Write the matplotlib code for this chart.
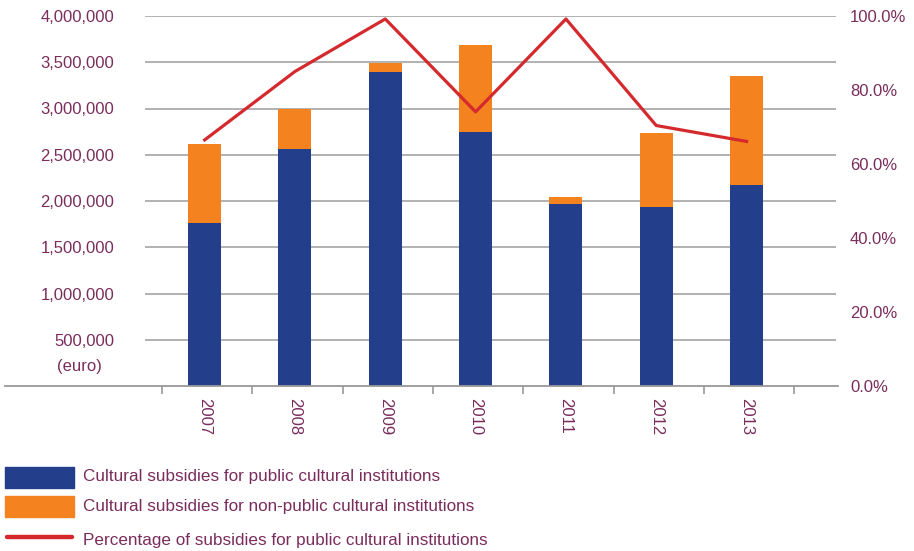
import matplotlib.pyplot as plt
from matplotlib.patches import Rectangle
from matplotlib.lines import Line2D
import numpy as np

# Data
years = ['2007', '2008', '2009', '2010', '2011', '2012', '2013']
public = [1762000, 2562000, 3395000, 2746000, 1968000, 1939000, 2173000]
total = [2616000, 2995000, 3495000, 3686000, 2047000, 2735000, 3351000]
non_public = [t - p for t, p in zip(total, public)]
pct_public = [66.5, 85.0, 99.2, 74.1, 99.2, 70.4, 66.1]

left_ticks = [500000, 1000000, 1500000, 2000000, 2500000, 3000000, 3500000, 4000000]
right_ticks = [0, 20, 40, 60, 80, 100]

blue = '#233E8B'
orange = '#F4821F'
red = '#D42A2E'
txt = '#7A2D5C'
grid_c = '#ABABAB'

plt.rcParams['font.family'] = ['Liberation Sans', 'DejaVu Sans']

fig = plt.figure(figsize=(9.14, 5.51), dpi=100)
ax = fig.add_axes([145 / 914, 1 - 386 / 551, (836 - 145) / 914, 370 / 551])

x = np.arange(len(years))
ax.bar(x, public, width=0.365, color=blue, zorder=3)
ax.bar(x, non_public, bottom=public, width=0.365, color=orange, zorder=3)

ax.set_xlim(-0.66, 6.99)
ax.set_ylim(0, 4000000)
ax.set_yticks(left_ticks)
ax.set_yticklabels([f'{v:,}' for v in left_ticks])
ax.yaxis.grid(True, color=grid_c, linewidth=1.3)
ax.set_axisbelow(True)
ax.tick_params(axis='y', length=0, pad=22, labelsize=12, labelcolor=txt)

# category labels + boundary ticks
ax.set_xticks(x)
ax.set_xticklabels(years, rotation=-90, fontsize=12, color=txt)
ax.tick_params(axis='x', which='major', length=0, pad=9)
ax.set_xticks(np.arange(-0.47, 7.0, 1.0), minor=True)
ax.tick_params(axis='x', which='minor', length=6, color='#999999', width=1.2)

for s in ['top', 'left', 'right', 'bottom']:
    ax.spines[s].set_visible(False)

# bottom axis line runs past the plot area to the left
fig.add_artist(Line2D([5 / 914, 838 / 914], [1 - 386 / 551, 1 - 386 / 551],
                      color='#999999', linewidth=1.3))

ax2 = ax.twinx()
ax2.plot(x, pct_public, color=red, linewidth=2.3, zorder=4)
ax2.set_ylim(0, 100)
ax2.set_yticks(right_ticks)
ax2.set_yticklabels([f'{v:.1f}%' for v in right_ticks])
ax2.tick_params(axis='y', length=0, pad=10, labelsize=12, labelcolor=txt)
for s in ['top', 'left', 'right', 'bottom']:
    ax2.spines[s].set_visible(False)

fig.text(57 / 914, 1 - 367 / 551, '(euro)', fontsize=12, color=txt, ha='left', va='center')

# legend drawn by hand
W, H = 914, 551
fig.add_artist(Rectangle((5 / W, 1 - 488 / H), 69 / W, 21 / H, color=blue, transform=fig.transFigure))
fig.add_artist(Rectangle((5 / W, 1 - 517 / H), 69 / W, 21 / H, color=orange, transform=fig.transFigure))
fig.add_artist(Line2D([7 / W, 72 / W], [1 - 537 / H, 1 - 537 / H], color=red, linewidth=3.2,
                      solid_capstyle='round'))
leg_texts = ['Cultural subsidies for public cultural institutions',
             'Cultural subsidies for non-public cultural institutions',
             'Percentage of subsidies for public cultural institutions']
for t, yy in zip(leg_texts, [477, 506, 540]):
    fig.text(83 / W, 1 - yy / H, t, fontsize=12.3, color=txt, ha='left', va='center')

fig.savefig('out.png', dpi=100)
